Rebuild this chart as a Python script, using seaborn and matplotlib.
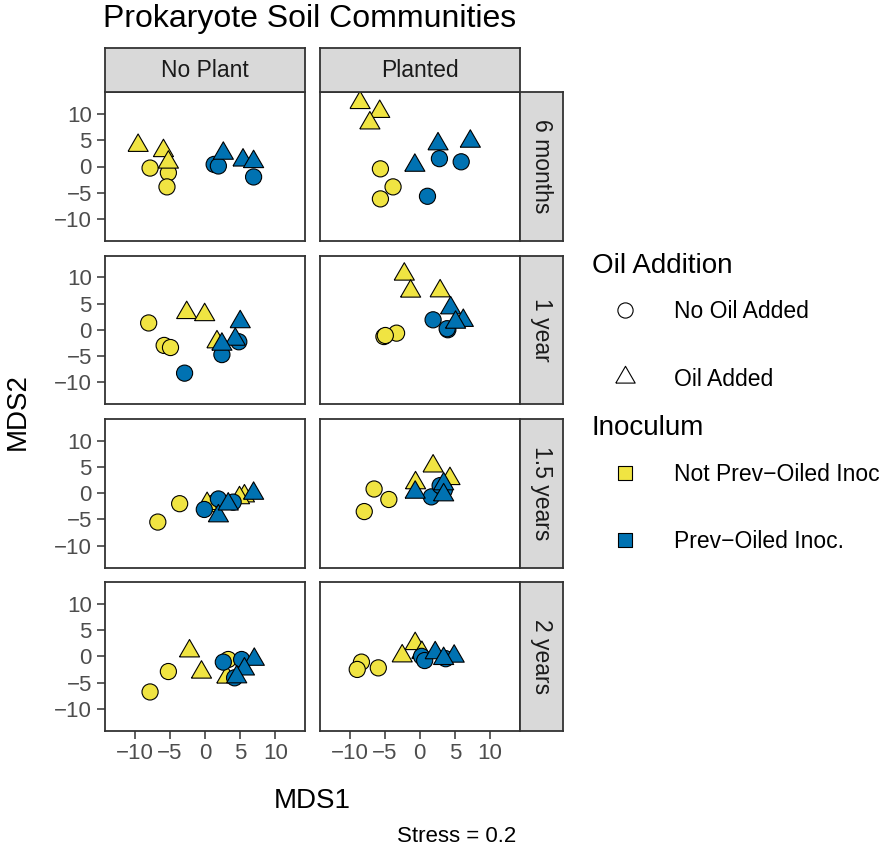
import matplotlib.pyplot as plt
import seaborn as sns
import pandas as pd

# ---- data (3 reps per group) ----
times = ["6 months", "1 year", "1.5 years", "2 years"]
plants = ["No Plant", "Planted"]
inoc_levels = ["Not Prev\u2212Oiled Inoc", "Prev\u2212Oiled Inoc."]
oil_levels = ["No Oil Added", "Oil Added"]

# point order in every panel: yellow circles, yellow triangles, blue circles, blue triangles
inoc_order = [inoc_levels[0]] * 6 + [inoc_levels[1]] * 6
oil_order = ([oil_levels[0]] * 3 + [oil_levels[1]] * 3) * 2

mds1_noplant_6m = [-7.8, -5.2, -5.4, -9.5, -5.9, -5.2, 1.3, 1.9, 6.9, 2.6, 5.4, 6.9]
mds2_noplant_6m = [-0.3, -1.2, -3.9, 4.0, 3.0, 0.8, 0.4, 0.1, -2.0, 2.5, 1.2, 0.9]
mds1_planted_6m = [-5.6, -3.8, -5.6, -8.5, -5.7, -7.1, 2.8, 5.9, 1.1, 2.6, 7.2, -0.7]
mds2_planted_6m = [-0.45, -3.9, -6.2, 12.2, 10.5, 8.3, 1.5, 0.9, -5.7, 4.3, 4.8, 0.2]

mds1_noplant_1y = [-8.0, -5.8, -4.9, -2.6, -0.05, 1.7, 4.8, 2.4, -2.9, 5.0, 4.3, 2.4]
mds2_noplant_1y = [1.3, -3.0, -3.4, 3.25, 2.85, -2.35, -2.3, -4.75, -8.3, 1.5, -1.85, -2.8]
mds1_planted_1y = [-5.1, -3.3, -4.9, -2.2, -1.3, 2.9, 1.9, 4.0, 3.9, 4.4, 6.2, 5.1]
mds2_planted_1y = [-1.3, -0.65, -1.1, 10.6, 7.35, 7.4, 1.9, 0.0, 0.2, 4.15, 1.75, 1.4]

mds1_noplant_15y = [-6.7, -3.6, 1.0, 0.3, 5.6, 4.9, -0.1, 1.9, 4.0, 6.9, 1.9, 3.3]
mds2_noplant_15y = [-5.5, -2.0, -2.0, -2.0, -0.55, -0.9, -3.1, -1.1, -1.7, -0.05, -4.35, -2.1]
mds1_planted_15y = [-6.5, -4.4, -7.9, 1.9, 4.3, -0.6, 1.65, 3.5, 2.9, -0.65, 3.4, 3.4]
mds2_planted_15y = [0.8, -1.2, -3.5, 5.15, 2.75, 1.95, -0.7, 0.6, 1.45, 0.15, 1.75, -0.35]

mds1_noplant_2y = [-7.8, -5.2, 3.3, -2.2, -0.5, 3.1, 2.6, 5.2, 4.2, 7.0, 5.6, 4.5]
mds2_noplant_2y = [-6.8, -2.9, -0.6, 1.0, -3.05, -4.0, -1.1, -0.6, -4.1, -0.6, -2.45, -3.95]
mds1_planted_2y = [-8.3, -8.9, -5.9, -0.65, -2.5, 0.3, 0.25, 0.7, 3.7, 2.2, 4.9, 3.4]
mds2_planted_2y = [-1.1, -2.5, -2.2, 2.4, 0.05, 0.7, 0.0, -0.8, -0.45, 0.65, 0.0, -0.45]

panel_data = {
    ("6 months", "No Plant"): (mds1_noplant_6m, mds2_noplant_6m),
    ("6 months", "Planted"): (mds1_planted_6m, mds2_planted_6m),
    ("1 year", "No Plant"): (mds1_noplant_1y, mds2_noplant_1y),
    ("1 year", "Planted"): (mds1_planted_1y, mds2_planted_1y),
    ("1.5 years", "No Plant"): (mds1_noplant_15y, mds2_noplant_15y),
    ("1.5 years", "Planted"): (mds1_planted_15y, mds2_planted_15y),
    ("2 years", "No Plant"): (mds1_noplant_2y, mds2_noplant_2y),
    ("2 years", "Planted"): (mds1_planted_2y, mds2_planted_2y),
}

frames = []
for (time, plant), (xs, ys) in panel_data.items():
    frames.append(pd.DataFrame({"Time": time, "Plant": plant, "Inoculum": inoc_order,
                                "Oil": oil_order, "MDS1": xs, "MDS2": ys}))
df = pd.concat(frames, ignore_index=True)

# ---- style ----
sns.set_theme(style="white")
plt.rcParams["font.family"] = ["Liberation Sans", "DejaVu Sans"]
plt.rcParams["text.color"] = "black"

palette = {inoc_levels[0]: "#F0E442", inoc_levels[1]: "#0072B2"}
tri = [(-1, -0.577), (1, -0.577), (0, 1.155), (-1, -0.577)]
markers = {oil_levels[0]: "o", oil_levels[1]: tri}
sizes = {oil_levels[0]: 135, oil_levels[1]: 280}
border = "#333333"
strip_fill = "#D9D9D9"

W, H, DPI = 886, 848, 100
fig = plt.figure(figsize=(W / DPI, H / DPI), dpi=DPI)


def px_axes(x0, y0, x1, y1):
    return fig.add_axes([x0 / W, 1 - y1 / H, (x1 - x0) / W, (y1 - y0) / H])


col_x = [(105, 305), (320, 519.5)]
row_y = [(92.3, 240.7), (255.5, 404), (418.7, 567.7), (582, 730.7)]
strip_w = 43.5

for r, time in enumerate(times):
    for c, plant in enumerate(plants):
        x0, x1 = col_x[c]
        y0, y1 = row_y[r]
        ax = px_axes(x0, y0, x1, y1)
        sub = df[(df["Time"] == time) & (df["Plant"] == plant)]
        sns.scatterplot(data=sub, x="MDS1", y="MDS2", hue="Inoculum", style="Oil",
                        size="Oil", sizes=sizes, palette=palette, markers=markers,
                        hue_order=inoc_levels, style_order=oil_levels,
                        edgecolor="black", linewidth=0.8, legend=False, ax=ax)
        ax.set_xlim(-14.2, 14.2)
        ax.set_ylim(-14.2, 14.2)
        ax.set_xticks([-10, -5, 0, 5, 10])
        ax.set_yticks([-10, -5, 0, 5, 10])
        ax.set_xlabel("")
        ax.set_ylabel("")
        for sp in ax.spines.values():
            sp.set_color(border)
            sp.set_linewidth(1.3)
        ax.tick_params(axis="both", length=5.5, width=1.1, color=border,
                       labelsize=16, labelcolor="#4D4D4D")
        ax.tick_params(axis="x", pad=3, bottom=(r == 3), labelbottom=(r == 3))
        ax.tick_params(axis="y", pad=4, left=(c == 0), labelleft=(c == 0))

        # top strips
        if r == 0:
            st = px_axes(x0, 48, x1, y0)
            st.set_facecolor(strip_fill)
            st.set_xticks([])
            st.set_yticks([])
            for sp in st.spines.values():
                sp.set_color(border)
                sp.set_linewidth(1.3)
            st.text(0.5, 0.5, plant, ha="center", va="center", fontsize=16.5,
                    color="#1A1A1A", transform=st.transAxes)
        # right strips
        if c == 1:
            st = px_axes(x1, y0, x1 + strip_w, y1)
            st.set_facecolor(strip_fill)
            st.set_xticks([])
            st.set_yticks([])
            for sp in st.spines.values():
                sp.set_color(border)
                sp.set_linewidth(1.3)
            st.text(0.5, 0.5, time, ha="center", va="center", rotation=-90,
                    fontsize=16.5, color="#1A1A1A", transform=st.transAxes)

# ---- overlay for titles and legend (pixel coordinates) ----
ov = px_axes(0, 0, W, H)
ov.set_xlim(0, W)
ov.set_ylim(H, 0)
ov.axis("off")
ov.patch.set_alpha(0)

ov.text(103, 27.5, "Prokaryote Soil Communities", fontsize=23, va="baseline", ha="left")
ov.text(312, 801, "MDS1", fontsize=20, ha="center", va="center")
ov.text(18, 411.5, "MDS2", fontsize=20, ha="center", va="center", rotation=90)
ov.text(457, 836, "Stress = 0.2", fontsize=16, ha="center", va="center")

ov.text(592, 273, "Oil Addition", fontsize=20, va="baseline")
ov.text(592, 435, "Inoculum", fontsize=20, va="baseline")

oil_keys = [(318.3, "o", 120), (385.7, tri, 260)]
for (base, mk, sz), label in zip(oil_keys, oil_levels):
    yc = base - 8.3
    ov.scatter([625], [yc], marker=mk, s=sz, facecolor="white", edgecolor="black", linewidth=0.8)
    ov.text(674, base, label, fontsize=16.5, va="baseline")

inoc_keys = [481, 548.3]
for base, label in zip(inoc_keys, inoc_levels):
    yc = base - 8.3
    ov.scatter([625], [yc], marker="s", s=100, facecolor=palette[label], edgecolor="black", linewidth=0.8)
    ov.text(674, base, label, fontsize=16.5, va="baseline")

fig.savefig("out.png", dpi=DPI)
